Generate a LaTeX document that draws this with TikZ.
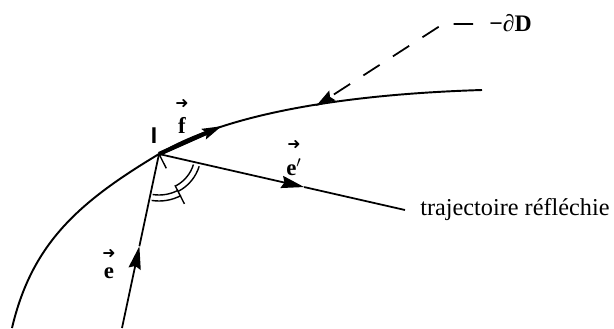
\documentclass[tikz,border=0pt]{standalone}
\usepackage{fontspec}
\setmainfont{Liberation Serif}
\newfontfamily\sansI{Liberation Sans}
\newfontfamily\symfont{DejaVu Sans}
\usetikzlibrary{arrows.meta, calc}

\newcommand{\vb}[1]{\shortstack{{\symfont\fontsize{9}{9}\selectfont ➜}\\[2pt]\textbf{#1}}}

\begin{document}
\begin{tikzpicture}[x=0.02cm, y=-0.02cm]
        \tikzstyle{curve} = [line width=1.1pt]
        \tikzstyle{ray} = [line width=1pt]
        \tikzstyle{arrow} = [line width=1pt, -{Stealth[length=13pt, width=7pt, inset=1.5pt]}]
        \tikzstyle{farrow} = [line width=2.4pt, -{Stealth[length=11pt, width=6pt, inset=1.5pt]}]
        \tikzstyle{dasharrow} = [line width=1pt, dash pattern=on 11pt off 9pt, -{Stealth[length=11pt, width=6.5pt, inset=1.5pt]}]
        \tikzstyle{anglemark} = [line width=0.8pt]
        \tikzstyle{lbl} = [inner sep=0pt, font=\fontsize{13}{15}\selectfont]

        \useasboundingbox (0,0) rectangle (614,328);

        % boundary of D
        \coordinate (I) at (159,154);
        \draw [curve] (12,328) .. controls (32,243) and (79,202) .. (I) .. controls (229,112) and (352,94) .. (482,90);

        \coordinate (ebot) at (122,328);
        \coordinate (emid) at ($(ebot)!0.47!(I)$);
        \coordinate (rend) at (405,210);
        \coordinate (rmid) at ($(I)!0.59!(rend)$);
        \coordinate (fend) at (222,126);
        \coordinate (dstart) at (473,24);
        \coordinate (dcorner) at (443,24);
        \coordinate (dtip) at (316,106);

        \node (lblI) [lbl, anchor=base, font=\fontsize{13}{15}\selectfont\bfseries] at (154,143) {\sansI I};
        \node (lblf) [lbl, anchor=base] at (182,133) {\vb{f}};
        \node (lble) [lbl, anchor=base] at (109,278) {\vb{e}};
        \node (lblr) [lbl, anchor=base] at (294,175) {\vb{e$'$}};
        \node (traj) [lbl, anchor=base west, font=\fontsize{13.8}{16}\selectfont] at (420,215) {trajectoire réfléchie};
        \node (bord) [lbl, anchor=west, font=\fontsize{13.5}{15}\selectfont\bfseries] at (489,23) {−∂D};

        \draw [arrow] (ebot) -- (emid);
        \draw [ray] (emid) -- (I);
        \draw [arrow] (I) -- (rmid);
        \draw [ray] (rmid) -- (rend);
        \draw [farrow] (I) -- (fend);
        \draw [dasharrow] (dstart) -- (dcorner) -- (dtip);

        % angles of incidence and reflection
        \draw [anglemark] ($(I)+(99:41)$) arc [start angle=99, end angle=62, radius=41];
        \draw [anglemark] ($(I)+(99:47)$) arc [start angle=99, end angle=62, radius=47];
        \draw [anglemark] ($(I)+(62:36)$) arc [start angle=62, end angle=17, radius=36];
        \draw [anglemark] ($(I)+(62:42)$) arc [start angle=62, end angle=17, radius=42];
        \draw [anglemark] (I) -- ++(63:16);
        \draw [anglemark] ($(I)+(63:35)$) -- ++(63:21);
    \end{tikzpicture}
\end{document}
